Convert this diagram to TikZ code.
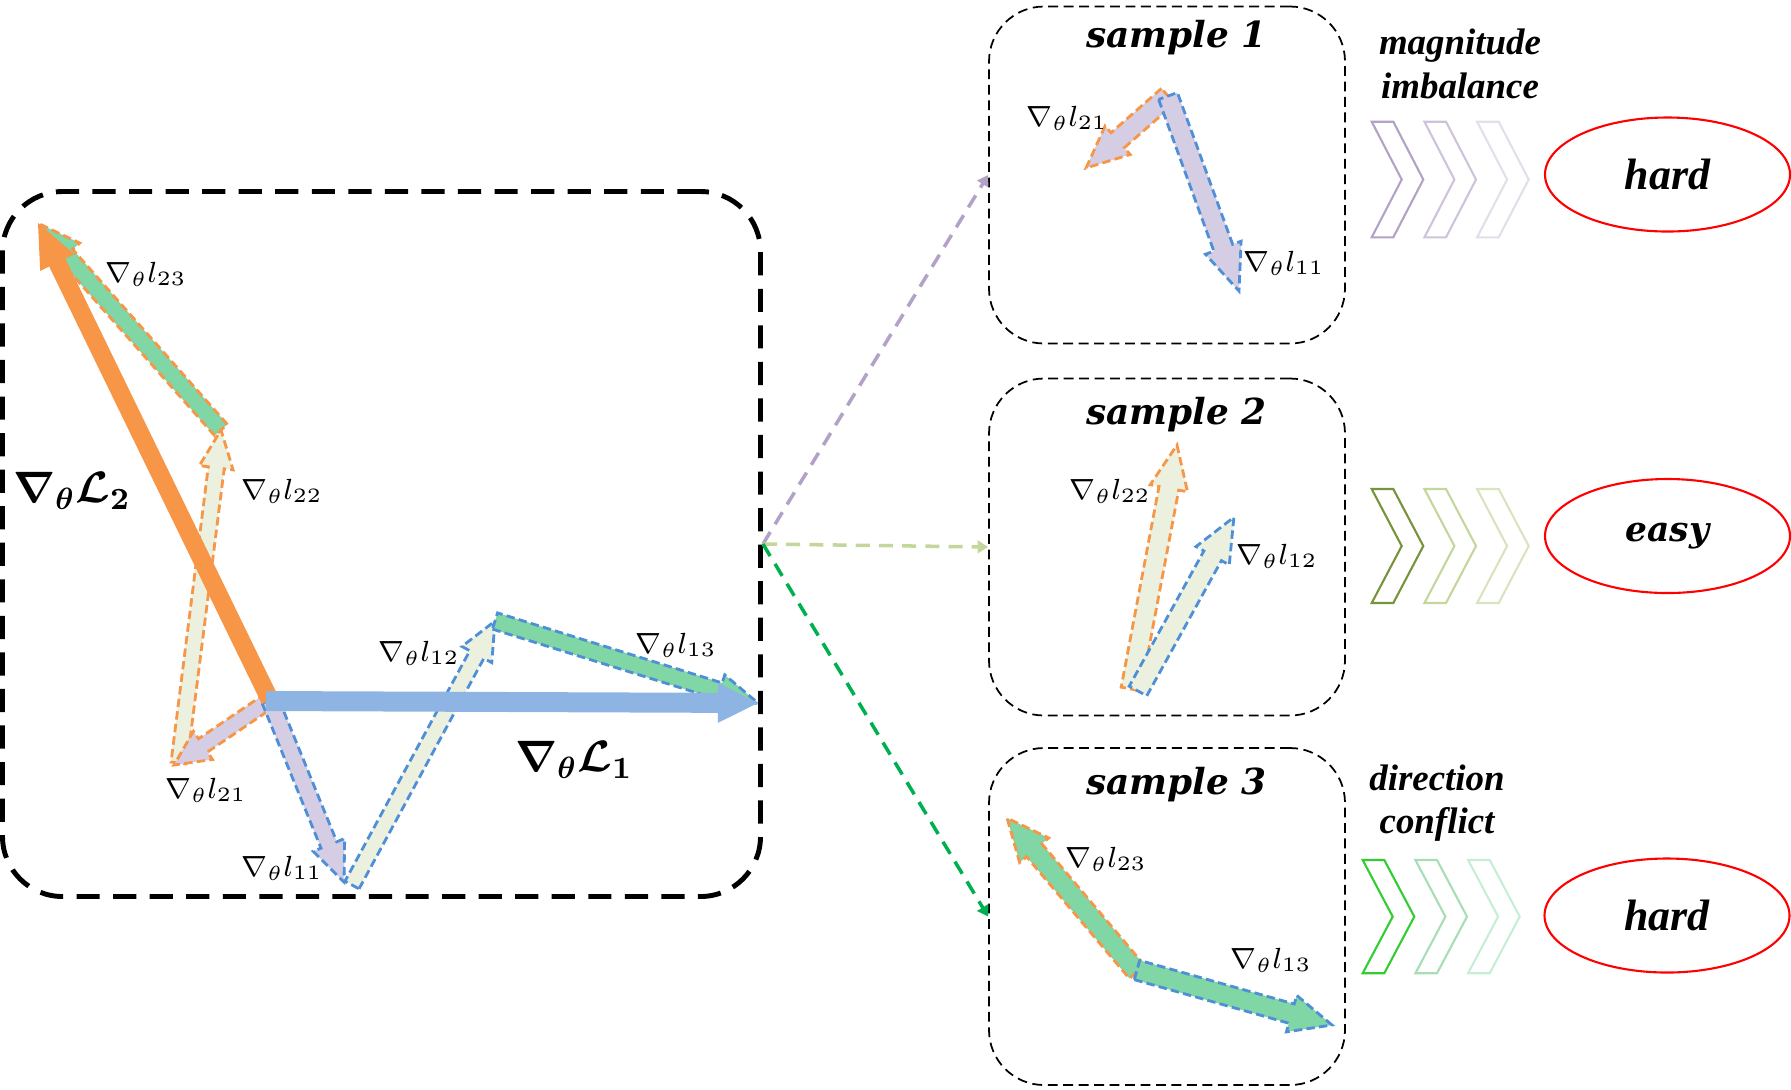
\RequirePackage{fix-cm}
\documentclass[tikz,border=0pt]{standalone}
\usepackage{amsmath}
\usepackage{bm}
\usepackage[no-math]{fontspec}
\setmainfont{Liberation Serif}
\newfontfamily\cambfont{DejaVu Serif}
\usepackage{tikz}
\usetikzlibrary{shapes,fit,calc,positioning,arrows.meta}

\definecolor{gradorange}{HTML}{F79646}
\definecolor{gradblue}{HTML}{4F8FD8}
\definecolor{sumblue}{HTML}{8EB4E3}
\definecolor{fillpurple}{HTML}{D5CDE3}
\definecolor{fillbeige}{HTML}{EBF1DE}
\definecolor{fillmint}{HTML}{80D6A4}
\definecolor{linkpurple}{HTML}{B3A2C7}
\definecolor{linklime}{HTML}{C3D69B}
\definecolor{linkgreen}{HTML}{00B050}
\definecolor{chevolive}{HTML}{77933C}
\definecolor{chevgreen}{HTML}{33CC33}
\definecolor{chevmint}{HTML}{A8DDB5}
\definecolor{chevpale}{HTML}{C6EED5}

% block arrow: [style]{from}{to}{shaft half width}{head half width}{head length}
\newcommand{\gradarrow}[6][]{%
  \path (#2); \pgfgetlastxy{\gax}{\gay}
  \path (#3); \pgfgetlastxy{\gbx}{\gby}
  \pgfmathsetmacro\gang{atan2(\gby-\gay,\gbx-\gax)}
  \pgfmathsetmacro\glen{veclen(\gbx-\gax,\gby-\gay)/0.28453}
  \begin{scope}[shift={(#2)}, rotate=\gang, x=0.1mm, y=0.1mm]
    \draw[#1] (0,-#4) -- (\glen-#6,-#4) -- (\glen-#6,-#5) -- (\glen,0)
      -- (\glen-#6,#5) -- (\glen-#6,#4) -- (0,#4) -- cycle;
  \end{scope}}

\begin{document}
\begin{tikzpicture}[x=0.1mm, y=-0.1mm,
  panel/.style={draw, dash pattern=on 6.6pt off 3.8pt, line width=1.4pt,
    rounded corners=6mm, minimum width=75.8mm, minimum height=70.5mm, inner sep=0},
  samplebox/.style={draw, dash pattern=on 2.8pt off 1.6pt, line width=0.5pt,
    rounded corners=5.5mm, minimum width=35.6mm, minimum height=33.7mm, inner sep=0},
  sampletitle/.style={font=\cambfont\bfseries\itshape\fontsize{10.2}{12}\selectfont},
  reason/.style={font=\bfseries\itshape\fontsize{10.5}{12.3}\selectfont, align=center},
  verdict/.style={ellipse, draw=red, line width=0.6pt, minimum width=24.5mm,
    minimum height=11.4mm, font=\bfseries\itshape\fontsize{12.5}{15}\selectfont},
  glabel/.style={font=\fontsize{8.3}{10}\selectfont, inner sep=0},
  biglabel/.style={font=\fontsize{12.5}{15}\selectfont, inner sep=0},
  link/.style={dash pattern=on 4pt off 2.6pt, line width=1pt,
    -{Triangle[length=3pt,width=3.6pt]}},
  outblue/.style={draw=gradblue, dash pattern=on 2.4pt off 1.2pt, line width=0.8pt},
  outorange/.style={draw=gradorange, dash pattern=on 2.4pt off 1.2pt, line width=0.8pt},
  chev/.style={line width=0.6pt}]
  \useasboundingbox (0,0) rectangle (1791,1089);

  % left panel
  \node (big) [panel] at (381.5,544) {};
  \coordinate (o) at (270,700);
  \coordinate (o1) at (266,701);
  \coordinate (p21) at (174,765);
  \coordinate (q21) at (179,763);
  \coordinate (p22) at (221,430);
  \coordinate (p11) at (344,882);
  \coordinate (q11) at (352,885);
  \coordinate (p12) at (495,621);
  \coordinate (L2tip) at (38,223);
  \coordinate (L1tip) at (758,703);
  \gradarrow[outorange, fill=fillbeige]{q21}{p22}{8}{17}{38}
  \gradarrow[outorange, fill=fillmint]{p22}{L2tip}{8.5}{18}{42}
  \gradarrow[outorange, fill=fillpurple]{o}{p21}{8}{17}{35}
  \gradarrow[outblue, fill=fillpurple]{o}{p11}{8.5}{17}{40}
  \gradarrow[outblue, fill=fillbeige]{q11}{p12}{8}{17}{38}
  \gradarrow[outblue, fill=fillmint]{p12}{L1tip}{8.5}{17}{40}
  \gradarrow[draw=none, fill=gradorange]{o}{L2tip}{9}{19}{44}
  \gradarrow[draw=none, fill=sumblue]{o1}{L1tip}{10}{20}{40}
  \node (n23) [glabel] at (146,274) {$\nabla_{\theta} l_{23}$};
  \node (n22) [glabel] at (282,491) {$\nabla_{\theta} l_{22}$};
  \node (n21) [glabel] at (206,790) {$\nabla_{\theta} l_{21}$};
  \node (n11) [glabel] at (282,868) {$\nabla_{\theta} l_{11}$};
  \node (n12) [glabel] at (419,653) {$\nabla_{\theta} l_{12}$};
  \node (n13) [glabel] at (676,645) {$\nabla_{\theta} l_{13}$};
  \node (nL2) [biglabel] at (72,491) {$\bm{\nabla_{\theta}\mathcal{L}_2}$};
  \node (nL1) [biglabel] at (574,760) {$\bm{\nabla_{\theta}\mathcal{L}_1}$};

  % samples
  \node (s1) [samplebox] at (1167,175) {};
  \node (s2) [samplebox] at (1167,547) {};
  \node (s3) [samplebox] at (1167,916.5) {};
  \node (t1) [sampletitle] at (1176.5,38) {sample 1};
  \node (t2) [sampletitle] at (1176.5,415) {sample 2};
  \node (t3) [sampletitle] at (1176.5,785) {sample 3};

  \draw[link, linkpurple] (big.east) -- (s1.west);
  \draw[link, linklime] (big.east) -- (s2.west);
  \draw[link, linkgreen] (big.east) -- (s3.west);

  \coordinate (a1) at (1168,96);
  \coordinate (a1b) at (1086,168);
  \coordinate (a1c) at (1239,291);
  \gradarrow[outorange, fill=fillpurple]{a1}{a1b}{10}{19}{42}
  \gradarrow[outblue, fill=fillpurple]{a1}{a1c}{10}{19}{46}
  \node (m21) [glabel] at (1067,118) {$\nabla_{\theta} l_{21}$};
  \node (m11) [glabel] at (1284,263) {$\nabla_{\theta} l_{11}$};

  \coordinate (a2) at (1131,689);
  \coordinate (a2b) at (1177,445);
  \coordinate (a2c) at (1138,691);
  \coordinate (a2d) at (1234,517);
  \gradarrow[outorange, fill=fillbeige]{a2}{a2b}{10}{19}{44}
  \gradarrow[outblue, fill=fillbeige]{a2c}{a2d}{10}{19}{44}
  \node (m22) [glabel] at (1110,491) {$\nabla_{\theta} l_{22}$};
  \node (m12) [glabel] at (1277,556) {$\nabla_{\theta} l_{12}$};

  \coordinate (a3) at (1137,972);
  \coordinate (a3b) at (1007,818);
  \coordinate (a3c) at (1137,970);
  \coordinate (a3d) at (1332,1025);
  \gradarrow[outorange, fill=fillmint]{a3}{a3b}{10}{19}{42}
  \gradarrow[outblue, fill=fillmint]{a3c}{a3d}{10}{19}{42}
  \node (m23) [glabel] at (1106,859) {$\nabla_{\theta} l_{23}$};
  \node (m13) [glabel] at (1271,960) {$\nabla_{\theta} l_{13}$};

  % reasons and verdicts
  \node (r1) [reason] at (1460,64) {magnitude\\imbalance};
  \node (r3) [reason] at (1437,803) {direction\\conflict};
  \foreach \c [count=\i from 0] in {linkpurple, linkpurple!65, linkpurple!35}
    \draw[chev, \c, shift={(\i*52.7,0)}] (1371.7,121.7) -- ++(21.6,0) -- ++(30,57.8)
      -- ++(-30,57.8) -- ++(-21.6,0) -- ++(30,-57.8) -- cycle;
  \foreach \c [count=\i from 0] in {chevolive, linklime, linklime!65}
    \draw[chev, \c, shift={(\i*52.7,0)}] (1371.7,489) -- ++(21.6,0) -- ++(30,57)
      -- ++(-30,57) -- ++(-21.6,0) -- ++(30,-57) -- cycle;
  \foreach \c [count=\i from 0] in {chevgreen, chevmint, chevpale}
    \draw[chev, \c, shift={(\i*52.7,0)}] (1362.7,860) -- ++(21.6,0) -- ++(30,56.6)
      -- ++(-30,56.6) -- ++(-21.6,0) -- ++(30,-56.6) -- cycle;
  \node (v1) [verdict] at (1667.5,174.5) {hard};
  \node (v2) [verdict, font=\cambfont\bfseries\itshape\fontsize{9.8}{12}\selectfont] at (1667.5,536) {easy};
  \node (v3) [verdict] at (1667,915.5) {hard};
\end{tikzpicture}
\end{document}
